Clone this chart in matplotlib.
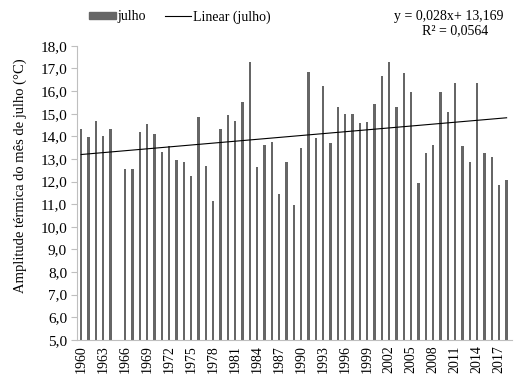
import matplotlib.pyplot as plt
from matplotlib.ticker import FuncFormatter, MultipleLocator
from matplotlib.patches import Patch
from matplotlib.lines import Line2D
import numpy as np

plt.rcParams["font.family"] = ["Liberation Serif", "DejaVu Serif"]

# July thermal amplitude per year (1965 has no value)
years = list(range(1960, 1965)) + list(range(1966, 2019))
values = [
    14.34, 13.96, 14.70, 14.03, 14.34,
    12.57, 12.57, 14.20, 14.53, 14.09, 13.30, 13.59, 12.96, 12.86, 12.25,
    14.85, 12.68, 11.12, 14.33, 14.95, 14.70, 15.52, 17.28, 12.65, 13.61,
    13.74, 11.44, 12.86, 10.97, 13.49, 16.83, 13.94, 16.21, 13.72, 15.29,
    15.00, 14.98, 14.61, 14.64, 15.45, 16.66, 17.30, 15.31, 16.80, 15.96,
    11.95, 13.27, 13.61, 15.96, 15.08, 16.38, 13.58, 12.86, 16.35, 13.27,
    13.08, 11.87, 12.07,
]
slope = 0.028
intercept = 13.169
r2 = 0.0564
tick_years = list(range(1960, 2019, 3))

fig = plt.figure(figsize=(5.19, 3.76), dpi=100)
ax = fig.add_axes([0.148, 0.096, 0.838, 0.782])

ax.bar(years, [v - 5 for v in values], bottom=5, width=0.33, color="#666666", zorder=2)

# Excel-style linear trend, x = 1..59
all_years = np.arange(1960, 2019)
trend = slope * (all_years - 1959) + intercept
ax.plot(all_years, trend, color="black", linewidth=0.8, zorder=3)

ax.set_xlim(1959.4, 2018.7)
ax.set_ylim(5, 18)
ax.yaxis.set_major_locator(MultipleLocator(1))
ax.yaxis.set_major_formatter(FuncFormatter(lambda v, p: f"{v:.1f}".replace(".", ",")))
ax.set_xticks(tick_years)
ax.set_xticklabels([str(y) for y in tick_years], rotation=90)
ax.tick_params(axis="x", length=0, pad=4, labelsize=10)
ax.tick_params(axis="y", length=4, direction="out", color="#bfbfbf", labelsize=11, pad=3)

for side in ["top", "right"]:
    ax.spines[side].set_visible(False)
ax.spines["left"].set_color("#bfbfbf")
ax.spines["bottom"].set_color("#bfbfbf")

fig.text(0.039, 1 - 176 / 376, "Amplitude térmica do mês de julho (°C)",
         rotation=90, ha="center", va="center", fontsize=10.5)

handles = [Patch(color="#666666"), Line2D([0], [0], color="black", linewidth=0.8)]
fig.legend(handles, ["julho", "Linear (julho)"], loc="center left",
           bbox_to_anchor=(0.148, 0.955), ncol=2, frameon=False, fontsize=10,
           handlelength=1.9, handleheight=0.3, handletextpad=0.1, columnspacing=1.4)

fig.text(0.97, 0.955, "y = 0,028x+ 13,169", ha="right", va="center", fontsize=10)
fig.text(0.94, 0.918, "R² = 0,0564", ha="right", va="center", fontsize=10)

fig.savefig("out.png", dpi=100)
